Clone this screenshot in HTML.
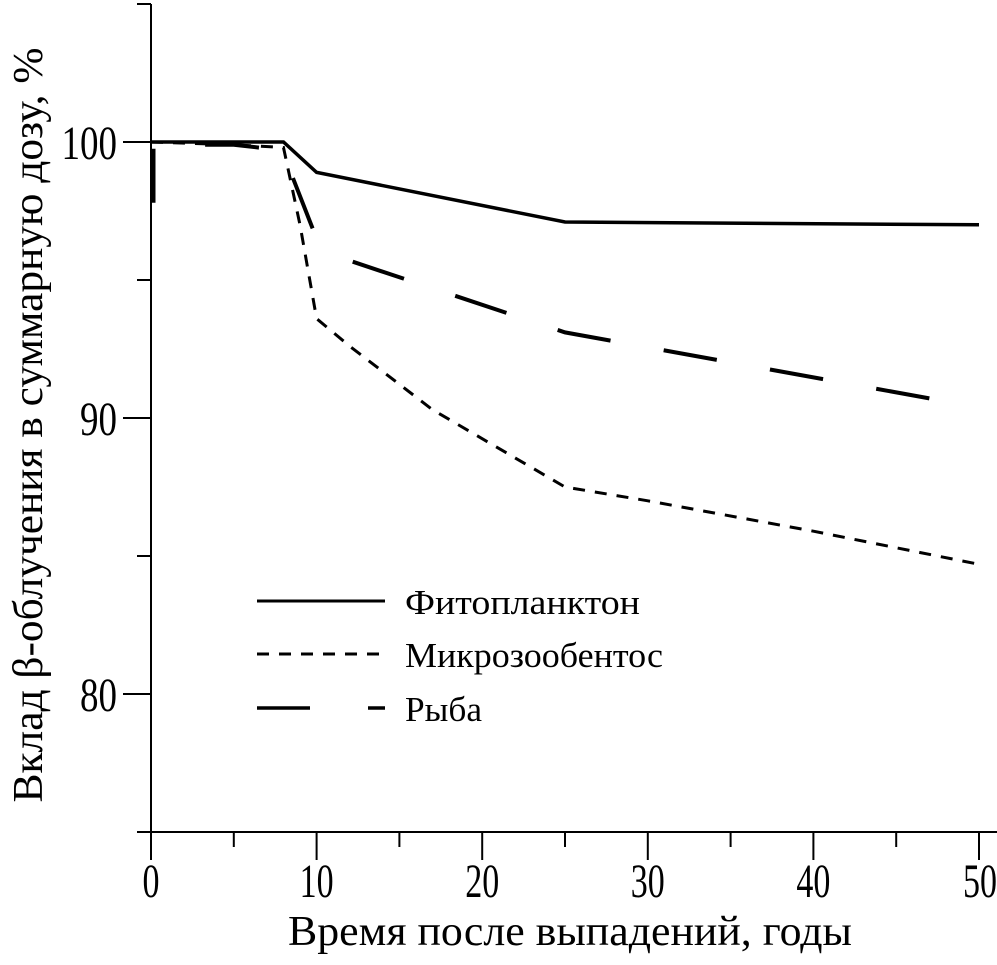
<!DOCTYPE html>
<html><head><meta charset="utf-8"><style>
html,body{margin:0;padding:0;background:#fff;}
svg{display:block;font-family:"Liberation Serif",serif;}
</style></head><body>
<svg id="chart" width="997" height="965" viewBox="0 0 997 965" xmlns="http://www.w3.org/2000/svg">
<g id="axes"></g>
<g id="series"></g>
<g id="legend" font-family="Liberation Serif, serif">
 <line x1="257" y1="601" x2="385" y2="601" stroke="#000" stroke-width="3"/>
 <text x="405" y="614" font-size="35" textLength="235" lengthAdjust="spacingAndGlyphs">Фитопланктон</text>
 <line x1="257" y1="654" x2="385" y2="654" stroke="#000" stroke-width="3" stroke-dasharray="12 10"/>
 <text x="405" y="667" font-size="35" textLength="258" lengthAdjust="spacingAndGlyphs">Микрозообентос</text>
 <line x1="257" y1="708" x2="310" y2="708" stroke="#000" stroke-width="3.5"/>
 <line x1="368" y1="708" x2="385" y2="708" stroke="#000" stroke-width="3.5"/>
 <text x="405" y="721" font-size="35" textLength="77" lengthAdjust="spacingAndGlyphs">Рыба</text>
</g>
<text x="570" y="945" font-size="42" text-anchor="middle" textLength="564" lengthAdjust="spacingAndGlyphs">Время после выпадений, годы</text>
<text transform="translate(42,425) rotate(-90)" font-size="42" text-anchor="middle" textLength="755" lengthAdjust="spacingAndGlyphs">Вклад β-облучения в суммарную дозу, %</text>
</svg>
<script>
const xTicks = [0, 10, 20, 30, 40, 50];
const xMinor = [5, 15, 25, 35, 45];
const yTicks = [80, 90, 100];
const yMinor = [85, 95, 105];
const phytoX = [0, 8, 10, 25, 50];
const phytoY = [100, 100, 98.9, 97.1, 97.0];
const microX = [0, 5, 8, 9, 10, 12, 17, 25, 30, 40, 50];
const microY = [100, 99.9, 99.8, 97.0, 93.6, 92.6, 90.3, 87.5, 87.0, 85.9, 84.7];
const fishX = [0.15, 0.15, 0.3, 5, 8, 8.5, 10, 12, 25, 48];
const fishY = [97.8, 99.8, 99.9, 99.9, 99.7, 98.8, 96.5, 95.7, 93.1, 90.6];

const NS = "http://www.w3.org/2000/svg";
const X0 = 151, X1 = 979, Y0 = 832, Y1 = 4;
function sx(v){ return X0 + (v - 0) / 50 * (X1 - X0); }
function sy(v){ return Y0 - (v - 75) / 30 * (Y0 - Y1); }
function mk(tag, attrs, parent){
  const e = document.createElementNS(NS, tag);
  for (const k in attrs) e.setAttribute(k, attrs[k]);
  parent.appendChild(e); return e;
}
const axes = document.getElementById('axes');
let e;
e = mk('line', {x1: X0, y1: Y1, x2: X0, y2: Y0, stroke: '#000', 'stroke-width': 2}, axes);


e = mk('line', {x1: 137, y1: Y1, x2: X0, y2: Y1, stroke: '#000', 'stroke-width': 2}, axes);


e = mk('line', {x1: 137, y1: Y0, x2: 997, y2: Y0, stroke: '#000', 'stroke-width': 2}, axes);


xTicks.forEach(v => {
  const t = mk('line', {x1: sx(v), y1: Y0, x2: sx(v), y2: 860, stroke: '#000', 'stroke-width': 2}, axes);
  
  
  const s = String(v);
  const w = 17 * s.length;
  let left = sx(v) - w / 2;
  if (v === 50) left = 997 - w;
  const l = mk('text', {x: left, y: 897, 'font-size': 48, textLength: w, lengthAdjust: 'spacingAndGlyphs'}, axes);
  l.textContent = s;
  
  
});
xMinor.forEach(v => {
  const t = mk('line', {x1: sx(v), y1: Y0, x2: sx(v), y2: 847, stroke: '#000', 'stroke-width': 2}, axes);
  
  
});
yTicks.forEach(v => {
  const t = mk('line', {x1: 123, y1: sy(v), x2: X0, y2: sy(v), stroke: '#000', 'stroke-width': 2}, axes);
  
  
  const s = String(v);
  const w = 18.5 * s.length;
  const l = mk('text', {x: 117 - w, y: sy(v) + 17, 'font-size': 48, textLength: w, lengthAdjust: 'spacingAndGlyphs'}, axes);
  l.textContent = s;
  
  
});
yMinor.forEach(v => {
  const t = mk('line', {x1: 137, y1: sy(v), x2: X0, y2: sy(v), stroke: '#000', 'stroke-width': 2}, axes);
  
  
});
const ser = document.getElementById('series');
function path(xs, ys){ return xs.map((x,i)=>(i?'L':'M')+sx(x).toFixed(1)+','+sy(ys[i]).toFixed(1)).join(' '); }
e = mk('path', {d: path(fishX, fishY), fill: 'none', stroke: '#000', 'stroke-width': 4, 'stroke-dasharray': '54 54', 'stroke-dashoffset': 0}, ser);


e = mk('path', {d: path(microX, microY), fill: 'none', stroke: '#000', 'stroke-width': 3, 'stroke-dasharray': '12 10'}, ser);


e = mk('path', {d: path(phytoX, phytoY), fill: 'none', stroke: '#000', 'stroke-width': 3.5}, ser);


</script>
</body></html>
